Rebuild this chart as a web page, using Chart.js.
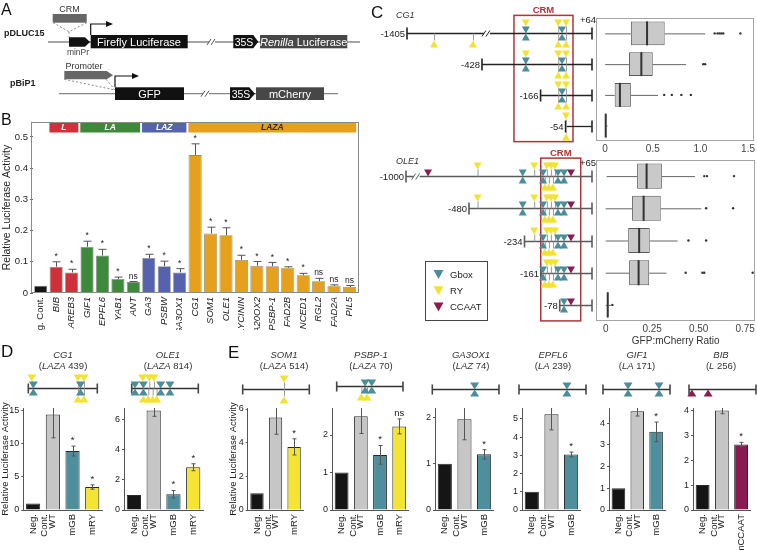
<!DOCTYPE html>
<html>
<head>
<meta charset="utf-8">
<title>CRM luciferase activity</title>
<script src="https://cdn.jsdelivr.net/npm/chart.js@4.4.1/dist/chart.umd.min.js"></script>
<style>
  html, body { margin: 0; padding: 0; background: #fff; }
  body { position: relative; width: 757px; height: 550px; overflow: hidden; font-family: "Liberation Sans", Arial, sans-serif; color: #222; }
  canvas { position: absolute; }
  .t { position: absolute; white-space: nowrap; line-height: 1; }
</style>
</head>
<body>
<canvas id="sketch" width="757" height="550" style="left:0;top:0"></canvas>
<script>
// ---------- panel B: luciferase activity of all CRMs
const bCategories = ['Neg. Cont.', 'BIB', 'AREB3', 'GIF1', 'EPFL6', 'YAB1', 'ANT', 'GA3', 'PSBW', 'GA3OX1',
  'CG1', 'SOM1', 'OLE1', 'GLYCININ', 'GA20OX2', 'PSBP-1', 'FAD2B', 'NCED1', 'RGL2', 'FAD2A', 'PIL5'];
const bValues = [0.023, 0.084, 0.066, 0.148, 0.12, 0.045, 0.035, 0.112, 0.086, 0.066,
  0.442, 0.191, 0.185, 0.106, 0.087, 0.086, 0.081, 0.057, 0.038, 0.023, 0.019];
const bErrors = [0, 0.016, 0.01, 0.018, 0.02, 0.006, 0.002, 0.012, 0.016, 0.012,
  0.036, 0.02, 0.024, 0.015, 0.014, 0.012, 0.003, 0.006, 0.009, 0.003, 0.005];
const bSignif = ['', '*', '*', '*', '*', '*', 'ns', '*', '*', '*',
  '*', '*', '*', '*', '*', '*', '*', '*', 'ns', 'ns', 'ns'];
const bClasses = ['neg', 'L', 'L', 'LA', 'LA', 'LA', 'LA', 'LAZ', 'LAZ', 'LAZ',
  'LAZA', 'LAZA', 'LAZA', 'LAZA', 'LAZA', 'LAZA', 'LAZA', 'LAZA', 'LAZA', 'LAZA', 'LAZA'];
const bGroups = ['L', 'LA', 'LAZ', 'LAZA'];
const bTicks = [0, 0.1, 0.2, 0.3, 0.4, 0.5];
const bTickLabels = ['0', '0.1', '0.2', '0.3', '0.4', '0.5'];

// ---------- panel C: GFP:mCherry ratio of promoter deletions
const cg1Starts = [-1405, -428, -166, -54];
const cg1End = 64;
const cg1Low = [0, 0, 0, 0];
const cg1Q1 = [0.27, 0.25, 0.1, 0.001];
const cg1Median = [0.44, 0.38, 0.155, 0.006];
const cg1Q3 = [0.625, 0.5, 0.27, 0.012];
const cg1High = [1.05, 0.85, 0.555, 0.025];
const cg1Outliers = [[1.15, 1.18, 1.2, 1.22, 1.24, 1.42], [1.03, 1.05], [0.62, 0.7, 0.8, 0.9], []];
const cg1Ticks = [0, 0.5, 1.0, 1.5];
const cg1TickLabels = ['0', '0.5', '1.0', '1.5'];
const cg1Motifs = [
  { type: 'RY', bp: -1053, level: -2 }, { type: 'RY', bp: -546, level: -2 },
  { type: 'Gbox', bp: -232, level: 0 }, { type: 'RY', bp: -232, level: 2 },
  { type: 'Gbox', bp: -70, level: 0 },
  { type: 'RY', bp: -87, level: 2 }, { type: 'RY', bp: -52, level: 2 },
  { type: 'RY', bp: -87, level: -2 }, { type: 'RY', bp: -52, level: -2 }
];

const ole1Starts = [-1000, -480, -234, -161, -78];
const ole1End = 65;
const ole1Low = [0.005, 0, 0, 0, 0];
const ole1Q1 = [0.169, 0.142, 0.121, 0.126, 0.007];
const ole1Median = [0.22, 0.204, 0.18, 0.177, 0.011];
const ole1Q3 = [0.302, 0.296, 0.237, 0.234, 0.015];
const ole1High = [0.48, 0.514, 0.387, 0.327, 0.03];
const ole1Outliers = [[0.53, 0.545, 0.69], [0.54, 0.685], [0.445, 0.54], [0.43, 0.52, 0.53, 0.79], [0.036]];
const ole1Ticks = [0, 0.25, 0.5, 0.75];
const ole1TickLabels = ['0', '0.25', '0.50', '0.75'];
const ole1Motifs = [
  { type: 'CCAAT', bp: -818, level: 1 }, { type: 'RY', bp: -442, level: 2 },
  { type: 'Gbox', bp: -242, level: 0 }, { type: 'RY', bp: -191, level: 2 },
  { type: 'Gbox', bp: -152, level: 0 },
  { type: 'RY', bp: -135, level: 2 }, { type: 'RY', bp: -117, level: 2 }, { type: 'RY', bp: -99, level: 2 },
  { type: 'RY', bp: -144, level: -2 }, { type: 'RY', bp: -126, level: -2 }, { type: 'RY', bp: -108, level: -2 },
  { type: 'Gbox', bp: -86, level: 0 }, { type: 'Gbox', bp: -59, level: 0 },
  { type: 'CCAAT', bp: -28, level: 1 }
];

// ---------- panels D and E: motif mutations
const negWtGbRy = [['Neg.', 'Cont.'], 'WT', 'mGB', 'mRY'];
const negWtRy = [['Neg.', 'Cont.'], 'WT', 'mRY'];
const negWtGb = [['Neg.', 'Cont.'], 'WT', 'mGB'];
const negWtCcaat = [['Neg.', 'Cont.'], 'WT', 'mCCAAT'];

const dCg1Values = [1, 14.4, 8.9, 3.47];
const dCg1Errors = [0, 3.5, 0.75, 0.33];
const dCg1Signif = ['', '', '*', '*'];
const dCg1Ticks = [0, 5, 10, 15];
const dCg1Motifs = [{ type: 'RY', bp: 22, level: 2 }, { type: 'Gbox', bp: 32, level: 0 },
  { type: 'RY', bp: 316, level: 2 }, { type: 'RY', bp: 354, level: 2 }, { type: 'Gbox', bp: 332, level: 0 },
  { type: 'RY', bp: 316, level: -2 }, { type: 'RY', bp: 354, level: -2 }];

const dOle1Values = [1, 6.58, 1.04, 2.83];
const dOle1Errors = [0, 0.38, 0.25, 0.23];
const dOle1Signif = ['', '', '*', '*'];
const dOle1Ticks = [0, 2, 4, 6];
const dOle1Motifs = [{ type: 'Gbox', bp: 40, level: 0 }, { type: 'Gbox', bp: 142, level: 0 },
  { type: 'Gbox', bp: 354, level: 0 }, { type: 'Gbox', bp: 468, level: 0 },
  { type: 'RY', bp: 134, level: 2 }, { type: 'RY', bp: 215, level: 2 }, { type: 'RY', bp: 272, level: 2 },
  { type: 'RY', bp: 142, level: -2 }, { type: 'RY', bp: 203, level: -2 }, { type: 'RY', bp: 256, level: -2 }, { type: 'RY', bp: 305, level: -2 }];

const som1Values = [1, 5.5, 3.75];
const som1Errors = [0, 1.0, 0.48];
const som1Signif = ['', '', '*'];
const som1Ticks = [0, 2, 4, 6];
const som1Motifs = [{ type: 'RY', bp: 319, level: 2 }, { type: 'RY', bp: 319, level: -2 }];

const psbp1Values = [1, 2.5, 1.47, 2.23];
const psbp1Errors = [0, 0.46, 0.25, 0.2];
const psbp1Signif = ['', '', '*', 'ns'];
const psbp1Ticks = [0, 1, 2];
const psbp1Motifs = [{ type: 'Gbox', bp: 30, level: 0 }, { type: 'Gbox', bp: 37, level: 0 },
  { type: 'RY', bp: 26, level: -2 }, { type: 'RY', bp: 32, level: -2 }];

const ga3ox1Values = [1, 1.955, 1.2];
const ga3ox1Errors = [0, 0.44, 0.1];
const ga3ox1Signif = ['', '', '*'];
const ga3ox1Ticks = [0, 1, 2];
const ga3ox1Motifs = [{ type: 'Gbox', bp: 47, level: 0 }];

const epfl6Values = [1, 5.26, 3.05];
const epfl6Errors = [0, 0.86, 0.13];
const epfl6Signif = ['', '', '*'];
const epfl6Ticks = [0, 1, 2, 3, 4, 5];
const epfl6Motifs = [{ type: 'Gbox', bp: 171, level: 0 }];

const gif1Values = [1, 4.55, 3.6];
const gif1Errors = [0, 0.22, 0.45];
const gif1Signif = ['', '', '*'];
const gif1Ticks = [0, 1, 2, 3, 4];
const gif1Motifs = [{ type: 'Gbox', bp: 64, level: 0 }, { type: 'Gbox', bp: 143, level: 0 }];

const bibValues = [1, 4.0, 2.63];
const bibErrors = [0, 0.13, 0.09];
const bibSignif = ['', '', '*'];
const bibTicks = [0, 1, 2, 3, 4];
const bibMotifs = [{ type: 'CCAAT', bp: 11, level: -1 }, { type: 'CCAAT', bp: 73, level: -1 }];

// ---------- styles
const FONT = "'Liberation Sans', Arial, sans-serif";
Chart.defaults.font.family = FONT;
Chart.defaults.color = '#222';
const classColors = { neg: '#141414', L: '#d0303a', LA: '#3d8a3b', LAZ: '#5562ad', LAZA: '#e6a11c' };
const groupTextColor = { L: '#fff', LA: '#fff', LAZ: '#fff', LAZA: '#2a2a2a' };
const motifColors = { Gbox: '#4b8d9b', RY: '#f3e232', CCAAT: '#8a1c4f' };
const barColors = { neg: '#151515', wt: '#c6c6c6', gb: '#4e8f9d', ry: '#f4e434', ccaat: '#8a1b50' };

function makeCanvas(box) {
  const c = document.createElement('canvas');
  c.width = box.width; c.height = box.height;
  c.style.left = box.left + 'px'; c.style.top = box.top + 'px';
  c.style.width = box.width + 'px'; c.style.height = box.height + 'px';
  document.body.appendChild(c);
  return c;
}

function frameFor(area, m) {
  return { left: area.l - m.left, top: area.t - m.top,
    width: Math.round(area.r - area.l + m.left + m.right), height: Math.round(area.b - area.t + m.top + m.bottom) };
}

function text(str, x, y, o = {}) {
  const d = document.createElement('div');
  d.className = 't';
  d.innerHTML = str;
  const tx = o.align === 'left' ? '0' : o.align === 'right' ? '-100%' : '-50%';
  d.style.left = x + 'px';
  d.style.top = y + 'px';
  d.style.fontSize = (o.size || 9.5) + 'px';
  d.style.color = o.color || '#222';
  d.style.fontWeight = o.bold ? 'bold' : 'normal';
  d.style.fontStyle = o.italic ? 'italic' : 'normal';
  d.style.transform = `translate(${tx},-50%)`;
  document.body.appendChild(d);
}

function framePlugin(color, outset) {
  return {
    id: 'frame',
    afterDraw(chart) {
      const { ctx, chartArea: a } = chart;
      ctx.save();
      ctx.strokeStyle = color;
      ctx.lineWidth = 1;
      ctx.strokeRect(Math.round(a.left - outset) + 0.5, Math.round(a.top) + 0.5,
        Math.round(a.right - a.left + 2 * outset) - 1, Math.round(a.bottom - a.top) - 1);
      ctx.restore();
    }
  };
}

function errorPlugin(errors, marks, o) {
  return {
    id: 'errorBars',
    afterDatasetsDraw(chart) {
      const { ctx, chartArea: a } = chart;
      const y = chart.scales.y;
      const vals = chart.data.datasets[0].data;
      ctx.save();
      chart.getDatasetMeta(0).data.forEach((bar, i) => {
        const v = vals[i], e = errors[i];
        const top = y.getPixelForValue(v + e);
        if (e > 0) {
          const bottom = y.getPixelForValue(o.upOnly ? v : v - e);
          const x = Math.round(bar.x) + 0.5;
          ctx.save();
          if (o.clip) { ctx.beginPath(); ctx.rect(a.left, a.top, a.right - a.left, a.bottom - a.top); ctx.clip(); }
          ctx.strokeStyle = o.color;
          ctx.lineWidth = 1;
          ctx.beginPath();
          ctx.moveTo(x, bottom); ctx.lineTo(x, top);
          ctx.moveTo(x - o.cap, top); ctx.lineTo(x + o.cap, top);
          if (!o.upOnly) { ctx.moveTo(x - o.cap, bottom); ctx.lineTo(x + o.cap, bottom); }
          ctx.stroke();
          ctx.restore();
        }
        if (marks[i]) {
          ctx.fillStyle = '#222';
          ctx.font = `${o.font}px ${FONT}`;
          ctx.textAlign = 'center';
          ctx.textBaseline = 'bottom';
          ctx.fillText(marks[i], bar.x, Math.max(top, a.top) - o.gap);
        }
      });
      ctx.restore();
    }
  };
}

const bGroupPlugin = {
  id: 'groupHeaders',
  afterDraw(chart) {
    const { ctx, chartArea: a } = chart;
    const x = chart.scales.x;
    const step = x.getPixelForValue(1) - x.getPixelForValue(0);
    ctx.save();
    bGroups.forEach(g => {
      const left = x.getPixelForValue(bClasses.indexOf(g)) - step / 2 + 1;
      const right = x.getPixelForValue(bClasses.lastIndexOf(g)) + step / 2 - 1;
      ctx.fillStyle = classColors[g];
      ctx.fillRect(left, a.top + 1, right - left, 9.5);
      ctx.fillStyle = groupTextColor[g];
      ctx.font = `italic bold 8.5px ${FONT}`;
      ctx.textAlign = 'center';
      ctx.textBaseline = 'middle';
      ctx.fillText(g, (left + right) / 2, a.top + 6);
    });
    ctx.restore();
  }
};

// ---------- panel B chart
const bArea = { l: 33, t: 122, r: 361, b: 293 };
const bMargin = { left: 33, top: 10, right: 4, bottom: 37 };
new Chart(makeCanvas(frameFor(bArea, bMargin)), {
  type: 'bar',
  data: {
    labels: bCategories,
    datasets: [{
      data: bValues,
      backgroundColor: bClasses.map(c => classColors[c]),
      borderColor: 'rgba(0,0,0,0.45)',
      borderWidth: 0.8,
      barPercentage: 0.85,
      categoryPercentage: 1
    }]
  },
  options: {
    responsive: false, devicePixelRatio: 1, animation: false,
    layout: { padding: { left: 0, top: bMargin.top, right: bMargin.right, bottom: 0 } },
    plugins: { legend: { display: false }, tooltip: { enabled: false } },
    scales: {
      x: {
        grid: { display: false, drawTicks: false }, border: { display: false },
        ticks: {
          autoSkip: false, minRotation: 90, maxRotation: 90, padding: 4, color: '#222',
          font: ctx => ({ family: FONT, size: 9.5, style: ctx.index === 0 ? 'normal' : 'italic' })
        },
        afterFit: s => { s.height = bMargin.bottom; }
      },
      y: {
        min: 0, max: 0.548,
        afterBuildTicks: s => { s.ticks = bTicks.map(v => ({ value: v })); },
        ticks: { callback: (v, i) => bTickLabels[i], font: { size: 9.5 }, padding: 2, color: '#222' },
        grid: { drawOnChartArea: false, tickLength: 3, color: '#666' },
        border: { display: false },
        title: { display: true, text: 'Relative Luciferase Activity', font: { size: 10.5 }, padding: { top: 1, bottom: 0 }, color: '#222' },
        afterFit: s => { s.width = bMargin.left; }
      }
    }
  },
  plugins: [framePlugin('#8a8a8a', 2), bGroupPlugin,
    errorPlugin(bErrors, bSignif, { upOnly: true, cap: 4, clip: false, color: '#555', font: 8.5, gap: 1 })]
});

// ---------- panels D/E small bar charts
function smallBars(o) {
  const m = { left: o.yw, top: 10, right: 3, bottom: 40 };
  const chart = new Chart(makeCanvas(frameFor(o.area, m)), {
    type: 'bar',
    data: {
      labels: o.labels,
      datasets: [{
        data: o.values, backgroundColor: o.colors, borderColor: '#2a2a2a', borderWidth: 1,
        borderSkipped: 'start', barPercentage: 0.72, categoryPercentage: 1
      }]
    },
    options: {
      responsive: false, devicePixelRatio: 1, animation: false,
      layout: { padding: { left: 0, top: m.top, right: m.right, bottom: 0 } },
      plugins: { legend: { display: false }, tooltip: { enabled: false } },
      scales: {
        x: {
          grid: { display: false, drawTicks: false }, border: { display: true, color: '#555' },
          ticks: { autoSkip: false, minRotation: 90, maxRotation: 90, padding: 4, font: { size: 9.5 }, color: '#222' },
          afterFit: s => { s.height = m.bottom; }
        },
        y: {
          min: 0, max: o.max,
          afterBuildTicks: s => { s.ticks = o.ticks.map(v => ({ value: v })); },
          ticks: { callback: v => String(v), font: { size: 9 }, padding: 2, color: '#222' },
          grid: { drawOnChartArea: false, tickLength: 2, color: '#555' },
          border: { display: true, color: '#555' },
          title: o.yTitle
            ? { display: true, text: o.yTitle, font: { size: 9.5 }, padding: { top: 0, bottom: 0 }, color: '#222' }
            : { display: false },
          afterFit: s => { s.width = m.left; }
        }
      }
    },
    plugins: [errorPlugin(o.errors, o.signif, { upOnly: false, cap: 2, clip: true, color: '#555', font: 9.5, gap: 1 })]
  });
  return chart;
}

const colsGbRy = [barColors.neg, barColors.wt, barColors.gb, barColors.ry];
const colsRy = [barColors.neg, barColors.wt, barColors.ry];
const colsGb = [barColors.neg, barColors.wt, barColors.gb];
const colsCcaat = [barColors.neg, barColors.wt, barColors.ccaat];
const yTitle = 'Relative Luciferase Activity';

smallBars({ area: { l: 23.3, t: 408, r: 104.9, b: 510 }, yw: 23.3, max: 15.4, ticks: dCg1Ticks, labels: negWtGbRy,
  values: dCg1Values, errors: dCg1Errors, signif: dCg1Signif, colors: colsGbRy, yTitle });
smallBars({ area: { l: 124, t: 408, r: 205.6, b: 510 }, yw: 14, max: 6.75, ticks: dOle1Ticks, labels: negWtGbRy,
  values: dOle1Values, errors: dOle1Errors, signif: dOle1Signif, colors: colsGbRy });
smallBars({ area: { l: 247.3, t: 408, r: 306.4, b: 510 }, yw: 19.7, max: 6.06, ticks: som1Ticks, labels: negWtRy,
  values: som1Values, errors: som1Errors, signif: som1Signif, colors: colsRy, yTitle });
smallBars({ area: { l: 332.3, t: 408, r: 411.9, b: 510 }, yw: 14, max: 2.72, ticks: psbp1Ticks, labels: negWtGbRy,
  values: psbp1Values, errors: psbp1Errors, signif: psbp1Signif, colors: colsGbRy });
smallBars({ area: { l: 434.8, t: 408, r: 496.3, b: 510 }, yw: 14, max: 2.2, ticks: ga3ox1Ticks, labels: negWtGb,
  values: ga3ox1Values, errors: ga3ox1Errors, signif: ga3ox1Signif, colors: colsGb });
smallBars({ area: { l: 521.8, t: 408, r: 583.3, b: 510 }, yw: 14, max: 5.6, ticks: epfl6Ticks, labels: negWtGb,
  values: epfl6Values, errors: epfl6Errors, signif: epfl6Signif, colors: colsGb });
smallBars({ area: { l: 608.7, t: 408, r: 668.7, b: 510 }, yw: 14, max: 4.7, ticks: gif1Ticks, labels: negWtGb,
  values: gif1Values, errors: gif1Errors, signif: gif1Signif, colors: colsGb });
smallBars({ area: { l: 693.2, t: 408, r: 753.8, b: 510 }, yw: 14, max: 4.1, ticks: bibTicks, labels: negWtCcaat,
  values: bibValues, errors: bibErrors, signif: bibSignif, colors: colsCcaat });

// ---------- panel C box plots
function boxPlugin(o) {
  return {
    id: 'boxParts',
    afterDatasetsDraw(chart) {
      const { ctx } = chart;
      const x = chart.scales.x;
      ctx.save();
      chart.getDatasetMeta(0).data.forEach((bar, i) => {
        const yc = bar.y, h = bar.height;
        ctx.strokeStyle = '#666';
        ctx.lineWidth = 1;
        ctx.beginPath();
        ctx.moveTo(x.getPixelForValue(o.low[i]), yc + 0.5); ctx.lineTo(x.getPixelForValue(o.q1[i]), yc + 0.5);
        ctx.moveTo(x.getPixelForValue(o.q3[i]), yc + 0.5); ctx.lineTo(x.getPixelForValue(o.high[i]), yc + 0.5);
        ctx.stroke();
        ctx.strokeStyle = '#333';
        ctx.lineWidth = 2;
        ctx.beginPath();
        const xm = x.getPixelForValue(o.med[i]);
        ctx.moveTo(xm, yc - h / 2); ctx.lineTo(xm, yc + h / 2);
        ctx.stroke();
        ctx.fillStyle = '#333';
        o.out[i].forEach(v => {
          ctx.beginPath();
          ctx.arc(x.getPixelForValue(v), yc, 1.2, 0, Math.PI * 2);
          ctx.fill();
        });
      });
      ctx.restore();
    }
  };
}

function boxChart(o) {
  const m = { left: 2, top: 4, right: 1, bottom: o.xh };
  const box = frameFor(o.area, m);
  const chart = new Chart(makeCanvas(box), {
    type: 'bar',
    data: {
      labels: o.starts.map(String),
      datasets: [{
        data: o.q1.map((q, i) => [q, o.q3[i]]),
        backgroundColor: '#c9c9c9', borderColor: '#5a5a5a', borderWidth: 1, borderSkipped: false,
        barPercentage: 0.78, categoryPercentage: 1
      }]
    },
    options: {
      indexAxis: 'y', responsive: false, devicePixelRatio: 1, animation: false,
      layout: { padding: { left: m.left, top: m.top, right: m.right, bottom: 0 } },
      plugins: { legend: { display: false }, tooltip: { enabled: false } },
      scales: {
        y: { display: false },
        x: {
          min: o.min, max: o.max,
          afterBuildTicks: s => { s.ticks = o.ticks.map(v => ({ value: v })); },
          ticks: { callback: (v, i) => o.tickLabels[i], font: { size: 10 }, color: '#444', padding: 2 },
          grid: { display: false, drawTicks: false }, border: { display: false },
          title: o.title
            ? { display: true, text: o.title, font: { size: 10 }, color: '#333', padding: { top: 0, bottom: 0 } }
            : { display: false },
          afterFit: s => { s.height = m.bottom; }
        }
      }
    },
    plugins: [framePlugin('#a5a5a5', 0), boxPlugin(o)]
  });
  return { chart, top: box.top };
}

const cg1Box = boxChart({ area: { l: 596, t: 18, r: 756, b: 141 }, xh: 14, starts: cg1Starts,
  low: cg1Low, q1: cg1Q1, med: cg1Median, q3: cg1Q3, high: cg1High, out: cg1Outliers,
  min: -0.096, max: 1.558, ticks: cg1Ticks, tickLabels: cg1TickLabels });
const ole1Box = boxChart({ area: { l: 596, t: 160, r: 756, b: 321 }, xh: 26, starts: ole1Starts,
  low: ole1Low, q1: ole1Q1, med: ole1Median, q3: ole1Q3, high: ole1High, out: ole1Outliers,
  min: -0.052, max: 0.805, ticks: ole1Ticks, tickLabels: ole1TickLabels, title: 'GFP:mCherry Ratio' });

// ---------- schematics (panels A, C, D, E)
const ctx = document.getElementById('sketch').getContext('2d');

function seg(x0, y0, x1, y1) { ctx.beginPath(); ctx.moveTo(x0, y0); ctx.lineTo(x1, y1); ctx.stroke(); }

function arrowBox(x0, x1, tip, y0, y1, color) {
  ctx.fillStyle = color;
  ctx.beginPath();
  ctx.moveTo(x0, y0); ctx.lineTo(x1, y0); ctx.lineTo(tip, (y0 + y1) / 2); ctx.lineTo(x1, y1); ctx.lineTo(x0, y1);
  ctx.closePath(); ctx.fill();
}

function tss(x, yFrom, yTo, xTo) {
  ctx.strokeStyle = '#111'; ctx.lineWidth = 1.2;
  ctx.beginPath(); ctx.moveTo(x, yFrom); ctx.lineTo(x, yTo); ctx.lineTo(xTo - 4, yTo); ctx.stroke();
  ctx.fillStyle = '#111';
  ctx.beginPath(); ctx.moveTo(xTo - 6, yTo - 3); ctx.lineTo(xTo + 1, yTo); ctx.lineTo(xTo - 6, yTo + 3); ctx.closePath(); ctx.fill();
}

function breakMark(x, y, color) {
  ctx.fillStyle = '#fff';
  ctx.fillRect(x - 3, y - 2, 6, 4);
  ctx.strokeStyle = color; ctx.lineWidth = 1;
  seg(x - 5, y + 3, x - 1, y - 3);
  seg(x - 1, y + 3, x + 3, y - 3);
}

function dotted(x0, y0, x1, y1) {
  ctx.save(); ctx.setLineDash([2, 2]); ctx.strokeStyle = '#888'; ctx.lineWidth = 1;
  seg(x0, y0, x1, y1); ctx.restore();
}

// panel A vectors
ctx.strokeStyle = '#888'; ctx.lineWidth = 1.3;
seg(48, 42, 360, 42);
seg(59, 93.7, 338, 93.7);
ctx.fillStyle = '#666';
ctx.fillRect(52.7, 14, 34, 8.7);
dotted(53, 22.7, 69, 31.7); dotted(86.7, 22.7, 69, 31.7); dotted(69, 31.7, 69, 37.3);
arrowBox(69, 85, 90, 37.3, 46.7, '#111');
ctx.fillStyle = '#111'; ctx.fillRect(90.7, 35, 97, 13.3);
tss(90.7, 35, 24, 112);
breakMark(212, 42, '#555');
arrowBox(233.3, 253.3, 258.3, 35, 48.3, '#111');
ctx.fillStyle = '#474747'; ctx.fillRect(260, 35, 87.3, 13.3);

arrowBox(64.3, 106.7, 113, 71, 79.3, '#666');
dotted(64.3, 79.3, 115, 90); dotted(106, 79.3, 115, 90);
ctx.fillStyle = '#111'; ctx.fillRect(115, 87.3, 69, 12.7);
tss(115, 87.3, 76, 138);
breakMark(206, 93.7, '#555');
arrowBox(230, 249.3, 255, 87.3, 100, '#111');
ctx.fillStyle = '#474747'; ctx.fillRect(256, 87.3, 68, 12.7);

text('A', 1, 10, { size: 16, align: 'left', color: '#111' });
text('CRM', 69.5, 9, { size: 9, color: '#333' });
text('pDLUC15', 4, 33, { size: 9, bold: true, align: 'left' });
text('minPr', 78, 52, { size: 8.5, color: '#444' });
text('Firefly Luciferase', 139, 42, { size: 11, color: '#fff' });
text('35S', 244, 42, { size: 10.5, color: '#fff' });
text('<i>Renilla</i> Luciferase', 303.7, 42, { size: 11, color: '#fff' });
text('pBiP1', 10, 83, { size: 9, bold: true, align: 'left' });
text('Promoter', 84, 65.5, { size: 9, color: '#333' });
text('GFP', 149.5, 93.7, { size: 11, color: '#fff' });
text('35S', 241, 93.7, { size: 10.5, color: '#fff' });
text('mCherry', 290, 93.7, { size: 11, color: '#fff' });
text('B', 1, 120, { size: 16, align: 'left', color: '#111' });

// motif glyphs
function tri(x, apexY, baseY, w, color) {
  ctx.fillStyle = color;
  ctx.beginPath(); ctx.moveTo(x - w / 2, baseY); ctx.lineTo(x + w / 2, baseY); ctx.lineTo(x, apexY); ctx.closePath(); ctx.fill();
}

function drawMotifs(list, xOf, y, w, h) {
  ctx.strokeStyle = '#9a9a9a'; ctx.lineWidth = 1;
  list.forEach(mf => {
    if (Math.abs(mf.level) === 2) seg(xOf(mf.bp) + 0.5, y, xOf(mf.bp) + 0.5, y + Math.sign(mf.level) * -h);
  });
  list.forEach(mf => {
    const x = xOf(mf.bp), c = motifColors[mf.type];
    if (mf.level === 0 || mf.level === 1) tri(x, y, y - h, w, c);
    if (mf.level === 0 || mf.level === -1) tri(x, y, y + h, w, c);
    if (mf.level === 2) tri(x, y - h, y - 2 * h, w, c);
    if (mf.level === -2) tri(x, y + h, y + 2 * h, w, c);
  });
}

function endTick(x, y, half, color) {
  ctx.strokeStyle = color; ctx.lineWidth = 1.6;
  seg(x, y - half, x, y + half);
}

// panel C promoter deletions, rows aligned to the box plot scale
function drawDeletions(box, starts, end, motifs, xOf, lineColor, breakBp, crm) {
  const ys = starts.map((s, i) => box.top + box.chart.scales.y.getPixelForValue(i));
  const crmX0 = xOf(crm[0]), crmX1 = xOf(crm[1]);
  ctx.strokeStyle = '#b3333b'; ctx.lineWidth = 1.5;
  ctx.strokeRect(crmX0, ys[0] - 18, crmX1 - crmX0, ys[ys.length - 1] - ys[0] + 34);
  starts.forEach((start, i) => {
    const y = Math.round(ys[i]) + 0.5;
    ctx.strokeStyle = lineColor; ctx.lineWidth = 1.3;
    seg(xOf(start), y, xOf(end), y);
    endTick(xOf(start), y, 6, lineColor);
    endTick(xOf(end), y, 6, lineColor);
    if (i === 0) breakMark(xOf(breakBp), y, lineColor);
    drawMotifs(motifs.filter(mf => mf.bp >= start), xOf, y, 8, 7);
    text(String(start), xOf(start) - 2, y, { size: 9.5, align: 'right' });
  });
  text('CRM', (crmX0 + crmX1) / 2, ys[0] - 23, { size: 9.5, bold: true, color: '#b3333b' });
  text('+' + end, xOf(end) - 4, ys[0] - 13, { size: 9.5 });
}

const cg1X = bp => bp >= -428 ? 592 + (bp - cg1End) * 0.2236 : 407 + (bp + 1405) * 0.0768;
const ole1X = bp => bp >= -480 ? 592 + (bp - ole1End) * 0.2257 : 406 + (bp + 1000) * 0.1212;
drawDeletions(cg1Box, cg1Starts, cg1End, cg1Motifs, cg1X, '#222', -406, [-285, -21]);
drawDeletions(ole1Box, ole1Starts, ole1End, ole1Motifs, ole1X, '#5a5a5a', -912, [-162, 15]);

text('C', 371, 12, { size: 17, align: 'left', color: '#111' });
text('CG1', 396, 15, { size: 9, italic: true, align: 'left', color: '#333' });
text('OLE1', 396, 161, { size: 9, italic: true, align: 'left', color: '#333' });

// legend
ctx.strokeStyle = '#444'; ctx.lineWidth = 1;
ctx.strokeRect(425.5, 261.5, 62, 59);
['Gbox', 'RY', 'CCAAT'].forEach((t, i) => {
  const y = 274.5 + i * 16.2;
  tri(438.5, y + 4.5, y - 4.5, 10, motifColors[t]);
  text(t, 450, y, { size: 9.5, align: 'left' });
});

// panels D and E fragments
function drawFragment(x0, x1, y, len, motifs) {
  ctx.strokeStyle = '#333'; ctx.lineWidth = 1.3;
  seg(x0, y, x1, y);
  endTick(x0, y, 5, '#444'); endTick(x1, y, 5, '#444');
  drawMotifs(motifs, bp => x0 + (bp / len) * (x1 - x0), y, 9, 7);
}
drawFragment(28.3, 97.3, 388.5, 439, dCg1Motifs);
drawFragment(131.7, 198.3, 388.5, 814, dOle1Motifs);
drawFragment(242.7, 309.3, 389.5, 514, som1Motifs);
drawFragment(336.7, 403, 386.5, 70, psbp1Motifs);
drawFragment(432.3, 499, 389.5, 74, ga3ox1Motifs);
drawFragment(519, 586, 389.5, 239, epfl6Motifs);
drawFragment(603, 670, 389.5, 171, gif1Motifs);
drawFragment(689, 756, 389.5, 256, bibMotifs);

text('D', 1, 351, { size: 17, align: 'left', color: '#111' });
text('E', 228, 352, { size: 17, align: 'left', color: '#111' });
const titles = [
  ['CG1', '<i>LAZA</i> 439', 63], ['OLE1', '<i>LAZA</i> 814', 168],
  ['SOM1', '<i>LAZA</i> 514', 284], ['PSBP-1', '<i>LAZA</i> 70', 371],
  ['GA3OX1', '<i>LAZ</i> 74', 471], ['EPFL6', '<i>LA</i> 239', 553],
  ['GIF1', '<i>LA</i> 171', 637], ['BIB', '<i>L</i> 256', 721]
];
titles.forEach(([name, sub, x]) => {
  text(name, x, 355, { size: 9.5, italic: true, color: '#333' });
  text('(' + sub + ')', x, 366, { size: 9.5, color: '#333' });
});
</script>
</body>
</html>
